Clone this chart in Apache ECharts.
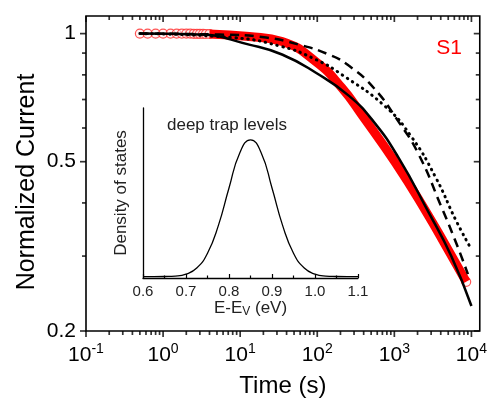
<!DOCTYPE html>
<html><head><meta charset="utf-8">
<script src="https://cdn.jsdelivr.net/npm/echarts@6/dist/echarts.min.js"></script>
<style>html,body{margin:0;padding:0;background:#fff}#c{width:490px;height:403px}</style>
</head><body><div id="c"></div><script>
// ---- data ----
const xMajor = [0.1, 1, 10, 100, 1000, 10000];
const yMajor = [0.2, 0.5, 1];
const yMinor = [0.3, 0.4, 0.6, 0.7, 0.8, 0.9];
const X_MIN = 0.1, X_MAX = 12830, Y_MIN = 0.2, Y_MAX = 1.10;

// red measured band (S1)
const redT = [4, 13.1, 34.9, 96, 208, 377, 1035, 2525, 5000, 8550];
const redV = [0.998, 0.984, 0.958, 0.859, 0.746, 0.645, 0.497, 0.384, 0.310, 0.261];
// individually visible open circles of the measured data
const redCircleT = [0.5, 0.63, 0.8, 1.0, 1.25, 1.5, 1.75, 2.0, 2.25, 2.5, 2.75, 3.0, 3.3, 3.6, 4.0, 8550];
const redCircleV = [1.0, 1.0, 1.0, 1.0, 1.0, 1.0, 1.0, 1.0, 1.0, 0.999, 0.999, 0.999, 0.999, 0.998, 0.998, 0.261];

const solidT = [0.5, 2.96, 13.1, 34.9, 96, 256, 538, 1132, 2761, 5470, 10000];
const solidV = [1.0, 0.995, 0.942, 0.893, 0.809, 0.715, 0.621, 0.511, 0.381, 0.300, 0.229];

const dashT = [0.5, 5.37, 21.7, 57.9, 141, 256, 538, 1132, 2051, 4064, 6343, 9000];
const dashV = [1.0, 0.995, 0.979, 0.942, 0.893, 0.841, 0.746, 0.621, 0.522, 0.392, 0.322, 0.272];

const dotT = [0.5, 7.91, 34.9, 96, 208, 769, 1667, 3400, 6343, 9910];
const dotV = [1.0, 0.979, 0.932, 0.869, 0.801, 0.673, 0.572, 0.461, 0.363, 0.312];

const gaussE = [0.6, 0.625, 0.65, 0.675, 0.7, 0.725, 0.75, 0.775, 0.8, 0.825, 0.85, 0.875, 0.9, 0.925, 0.95, 0.975, 1.0, 1.025, 1.05, 1.075, 1.1];
const gaussV = [0.01, 0.01, 0.011, 0.014, 0.028, 0.072, 0.179, 0.377, 0.651, 0.905, 1.0, 0.905, 0.651, 0.377, 0.179, 0.072, 0.028, 0.014, 0.011, 0.01, 0.01];
const insetXTicks = [0.6, 0.7, 0.8, 0.9, 1.0, 1.1];

// ---- build ----
const F = 'Liberation Sans';
const zip = (a, b) => a.map((v, i) => [v, b[i]]);
const xMinor = [];
for (let d = 0.1; d <= 1000; d *= 10) for (let k = 2; k <= 9; k++) xMinor.push(+(d * k).toPrecision(3));

// tick marks placed through the axis scales: bottom/left outward, top/right inward
function ticks(points, size, offset) {
  return {
    type: 'scatter', xAxisIndex: 0, yAxisIndex: 0, clip: false, silent: true, z: 6,
    symbol: 'rect', symbolSize: size, symbolOffset: offset,
    itemStyle: { color: '#000', borderWidth: 0 }, emphasis: { disabled: true },
    data: points
  };
}
const W = 1.7;

const chart = echarts.init(document.getElementById('c'), null, { renderer: 'canvas' });
chart.setOption({
  animation: false,
  backgroundColor: '#fff',
  grid: [
    { left: 86, right: 8, top: 16, bottom: 72, show: true, borderColor: '#000', borderWidth: 1.6, backgroundColor: 'transparent' },
    { left: 143, top: 108, width: 215, height: 170 }
  ],
  xAxis: [
    {
      type: 'log', gridIndex: 0, min: X_MIN, max: X_MAX,
      axisLine: { show: false }, axisTick: { show: false }, splitLine: { show: false },
      axisLabel: {
        customValues: xMajor, margin: 11,
        formatter: v => '{b|10}{s|' + Math.round(Math.log10(v)) + '}',
        rich: { b: { fontSize: 21, fontFamily: F, color: '#000', lineHeight: 26 },
                s: { fontSize: 14, fontFamily: F, color: '#000', verticalAlign: 'top', lineHeight: 14 } }
      },
      name: 'Time (s)', nameLocation: 'middle', nameGap: 43,
      nameTextStyle: { fontSize: 24, fontFamily: F, color: '#000' }
    },
    {
      type: 'value', gridIndex: 1, min: 0.6, max: 1.1, interval: 0.1,
      axisLine: { show: true, onZero: false, lineStyle: { color: '#000', width: 1.3 } },
      axisTick: { show: true, inside: true, length: 4, lineStyle: { color: '#000', width: 1.2 } },
      minorTick: { show: true, splitNumber: 2, length: 2.5, lineStyle: { color: '#000', width: 1.2 } },
      axisLabel: { fontSize: 15, fontFamily: F, color: '#222', margin: 6,
        customValues: insetXTicks, formatter: v => v.toFixed(1) },
      splitLine: { show: false },
      name: '{n|E-E}{u|V}{n| (eV)}', nameLocation: 'middle', nameGap: 21,
      nameTextStyle: { rich: {
        n: { fontSize: 17, fontFamily: F, color: '#222' },
        u: { fontSize: 12, fontFamily: F, color: '#222', verticalAlign: 'bottom', padding: [7, 0, 0, 0] } } }
    }
  ],
  yAxis: [
    {
      type: 'log', gridIndex: 0, min: Y_MIN, max: Y_MAX,
      axisLine: { show: false }, axisTick: { show: false }, splitLine: { show: false },
      axisLabel: {
        customValues: yMajor, margin: 10, fontSize: 21, fontFamily: F, color: '#000',
        formatter: v => String(+v.toPrecision(2))
      }
    },
    {
      type: 'value', gridIndex: 1, min: 0, max: 1.23,
      axisLine: { show: true, lineStyle: { color: '#000', width: 1.3 } },
      axisTick: { show: false }, axisLabel: { show: false }, splitLine: { show: false },
      name: 'Density of states', nameLocation: 'middle', nameGap: 13,
      nameTextStyle: { fontSize: 17, fontFamily: F, color: '#222' }
    }
  ],
  graphic: [
    { type: 'text', x: 27, y: 182, rotation: Math.PI / 2,
      style: { text: 'Normalized Current', fontSize: 25, fontFamily: F, fill: '#000', align: 'center', verticalAlign: 'middle' } },
    { type: 'text', x: 449, y: 48,
      style: { text: 'S1', fontSize: 21, fontFamily: F, fill: '#ff0000', align: 'center', verticalAlign: 'middle' } },
    { type: 'text', x: 227, y: 125,
      style: { text: 'deep trap levels', fontSize: 17, fontFamily: F, fill: '#222', align: 'center', verticalAlign: 'middle' } }
  ],
  series: [
    ticks(xMajor.map(t => [t, Y_MIN]), [W, 6], [0, 3]),
    ticks(xMinor.map(t => [t, Y_MIN]), [W, 4], [0, 2]),
    ticks(xMajor.map(t => [t, Y_MAX]), [W, 6], [0, 3]),
    ticks(xMinor.map(t => [t, Y_MAX]), [W, 4], [0, 2]),
    ticks(yMajor.map(v => [X_MIN, v]), [6, W], [-3, 0]),
    ticks(yMinor.map(v => [X_MIN, v]), [4, W], [-2, 0]),
    ticks(yMajor.map(v => [X_MAX, v]), [6, W], [-3, 0]),
    ticks(yMinor.map(v => [X_MAX, v]), [4, W], [-2, 0]),
    { type: 'line', xAxisIndex: 0, yAxisIndex: 0, data: zip(redT, redV), smooth: true, symbol: 'none',
      lineStyle: { color: '#ff0000', width: 9 } },
    { type: 'scatter', xAxisIndex: 0, yAxisIndex: 0, data: zip(redCircleT, redCircleV), symbol: 'circle', symbolSize: 9,
      itemStyle: { color: 'rgba(255,240,240,0.7)', borderColor: '#ff2a2a', borderWidth: 1.2 } },
    { type: 'line', xAxisIndex: 0, yAxisIndex: 0, data: zip(solidT, solidV), smooth: true, symbol: 'none',
      lineStyle: { color: '#000', width: 2.5 }, z: 3 },
    { type: 'line', xAxisIndex: 0, yAxisIndex: 0, data: zip(dashT, dashV), smooth: true, symbol: 'none',
      lineStyle: { color: '#000', width: 2.5, type: [9, 6] }, z: 3 },
    { type: 'line', xAxisIndex: 0, yAxisIndex: 0, data: zip(dotT, dotV), smooth: true, symbol: 'none',
      lineStyle: { color: '#000', width: 3, type: [0.5, 5.5], cap: 'round' }, z: 3 },
    { type: 'line', xAxisIndex: 1, yAxisIndex: 1, data: zip(gaussE, gaussV), smooth: true, symbol: 'none',
      lineStyle: { color: '#000', width: 1.3 } }
  ]
});
</script></body></html>
